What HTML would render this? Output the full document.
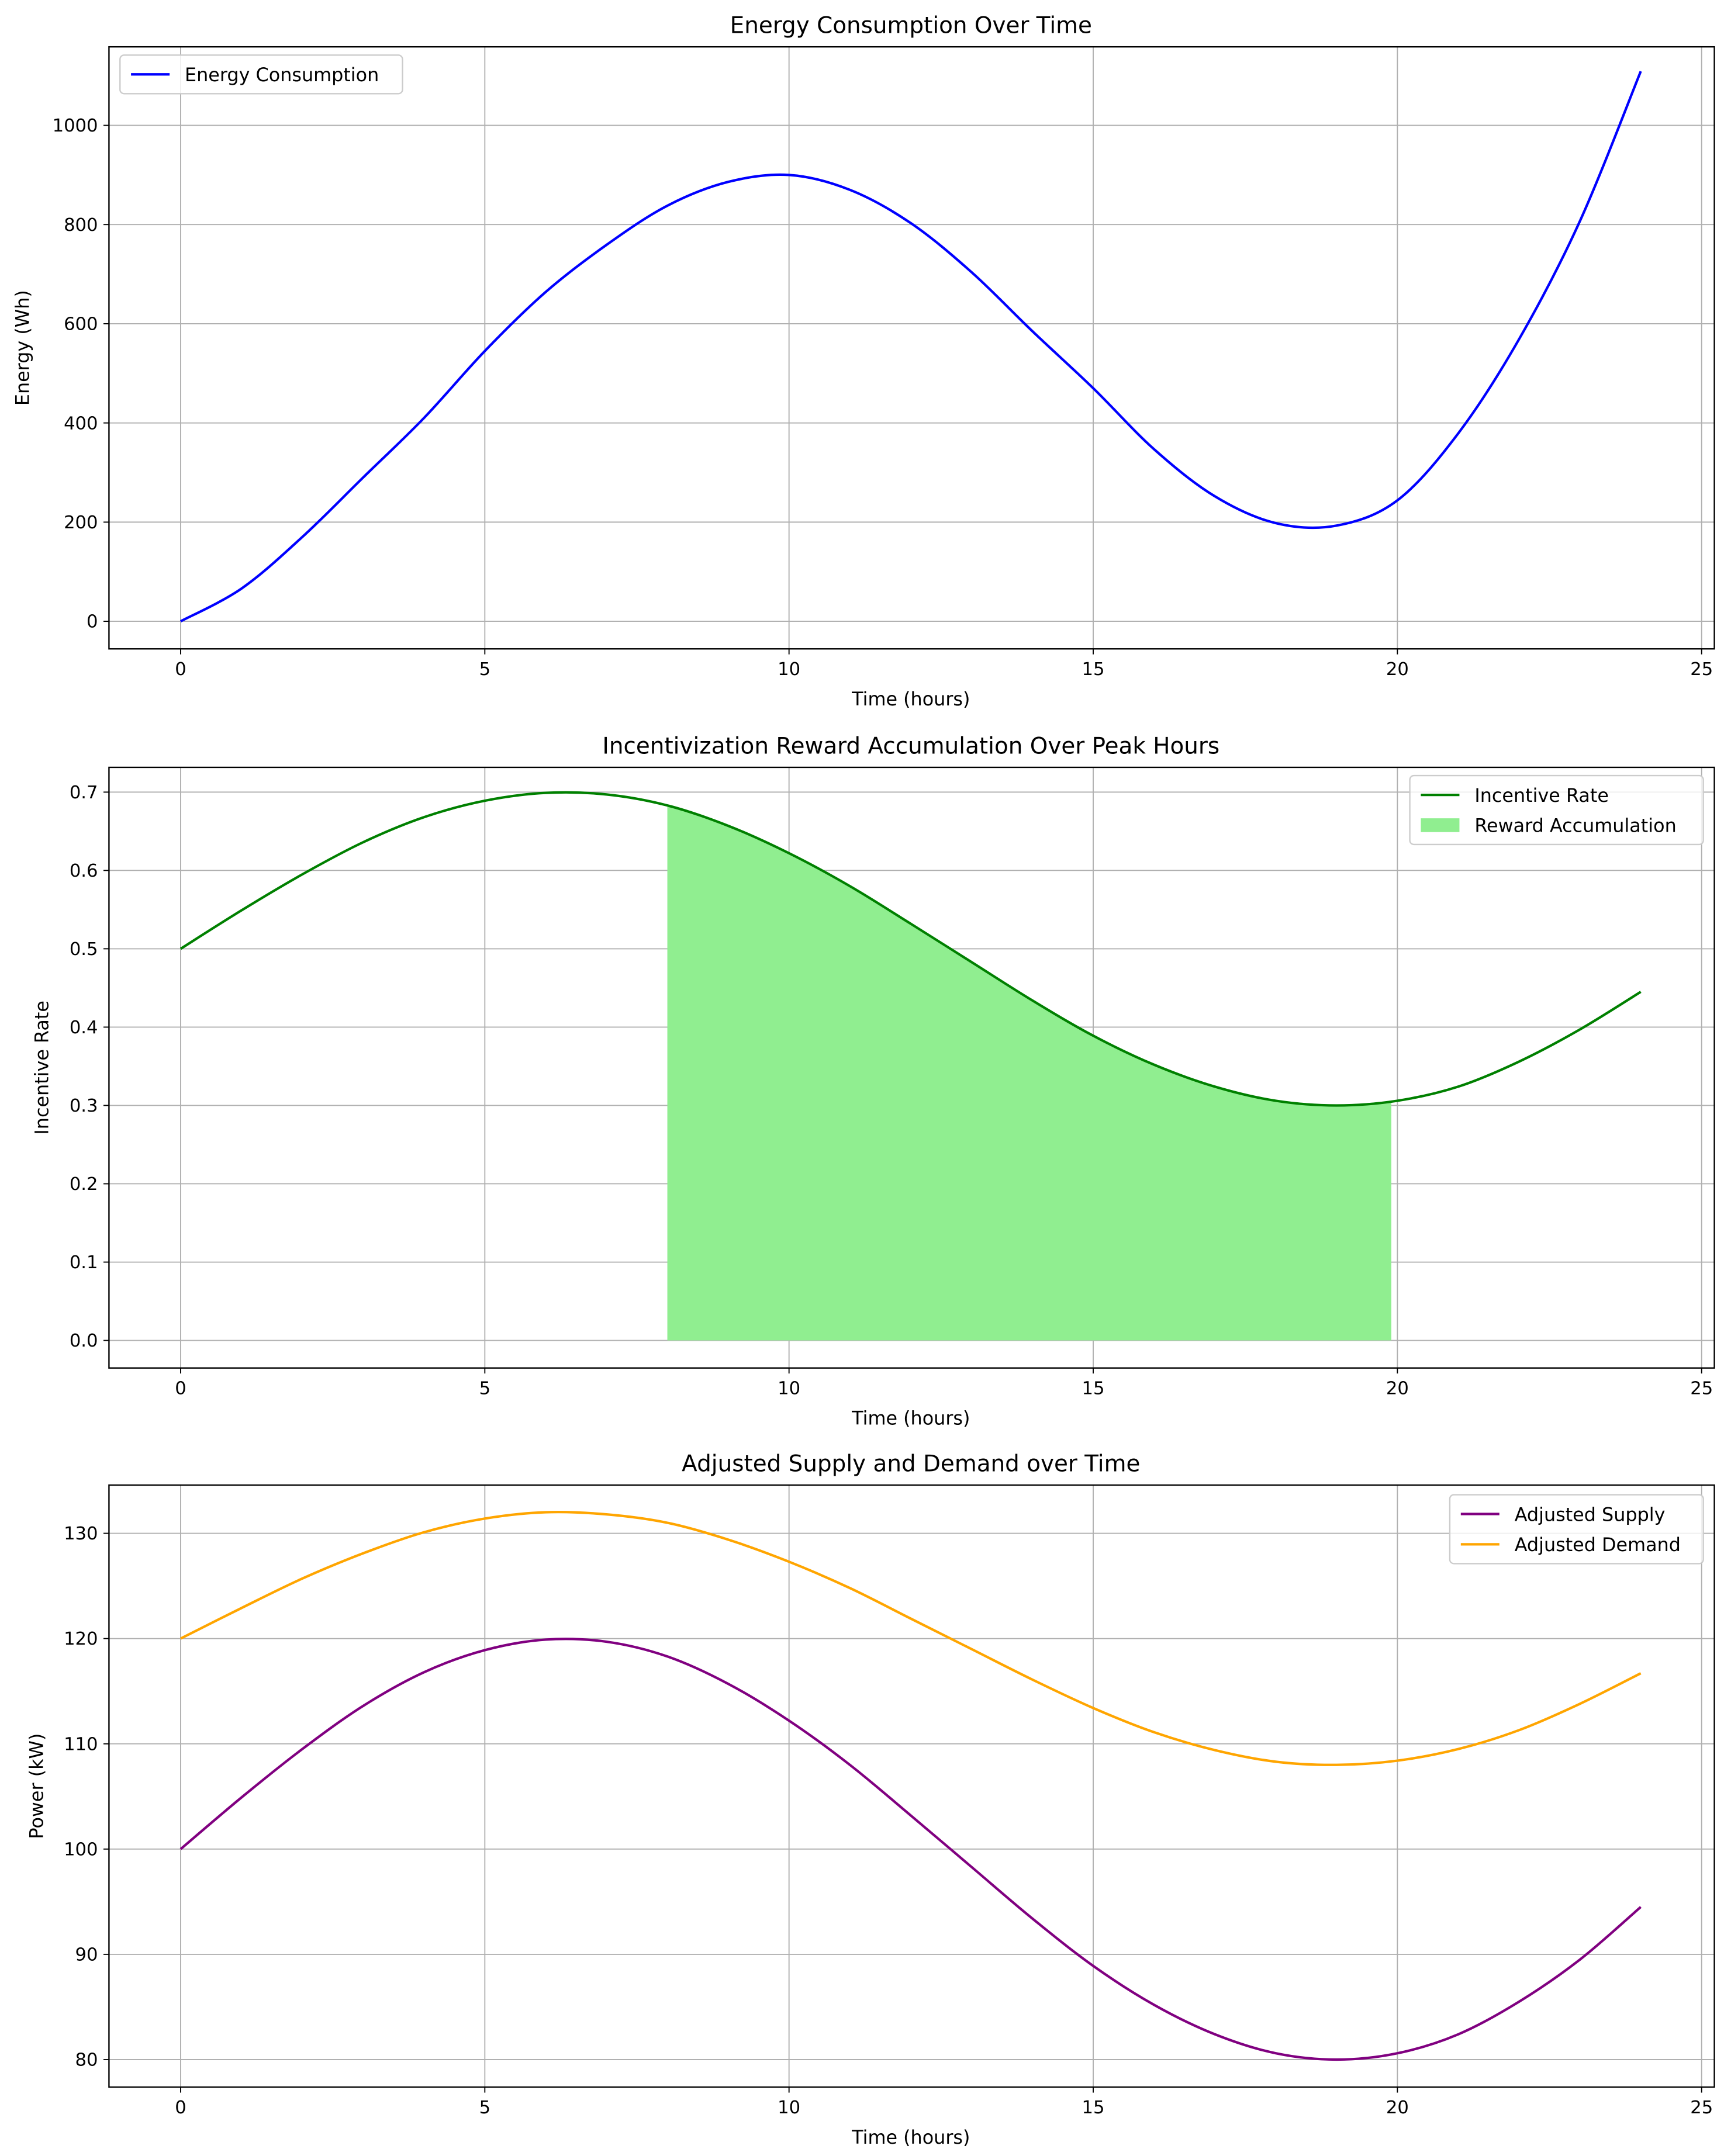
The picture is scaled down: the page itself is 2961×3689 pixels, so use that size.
<!DOCTYPE html>
<html><head><meta charset="utf-8"><style>
html,body{margin:0;padding:0;background:#fff}
svg{display:block;font-family:"DejaVu Sans","Liberation Sans",sans-serif}
</style></head><body>
<svg id="chart" width="2961" height="3689" viewBox="0 0 1256 1565" xmlns="http://www.w3.org/2000/svg"></svg>
<script>
const hours = [0,1,2,3,4,5,6,7,8,9,10,11,12,13,14,15,16,17,18,19,20,21,22,23,24];
const energy = [0,66,170,290,410,545,664,759,838,886,900,870,803,704,585,470,347,252,198,193,244,379,569,807,1109];
const incentive = [0.500,0.549,0.595,0.636,0.668,0.689,0.699,0.697,0.683,0.657,0.622,0.580,0.532,0.483,0.434,0.389,0.352,0.324,0.306,0.300,0.306,0.324,0.356,0.397,0.445];
const supply = [100,104.9,109.5,113.6,116.8,118.9,119.9,119.7,118.3,115.7,112.2,108.0,103.2,98.3,93.4,88.9,85.2,82.4,80.6,80.0,80.6,82.4,85.5,89.5,94.5];
const demand = [120,122.9,125.7,128.1,130.1,131.4,132.0,131.8,131.0,129.4,127.3,124.8,121.9,119.0,116.1,113.4,111.1,109.4,108.3,108.0,108.4,109.5,111.3,113.8,116.7];
const fillRange = [8, 19.9];
const xTicks = [0,5,10,15,20,25];
const yTicks1 = [0,200,400,600,800,1000];
const yTicks2 = [0.0,0.1,0.2,0.3,0.4,0.5,0.6,0.7];
const yTicks3 = [80,90,100,110,120,130];

const svg = document.getElementById('chart');
const NS = 'http://www.w3.org/2000/svg';
function mk(tag, attrs, parent){const e=document.createElementNS(NS,tag);for(const k in attrs)e.setAttribute(k,attrs[k]);(parent||svg).appendChild(e);return e;}
const xs = t => 131 + t*44.15;
function smooth(pts){let d='M'+pts[0][0]+','+pts[0][1];for(let i=0;i<pts.length-1;i++){const p0=pts[Math.max(i-1,0)],p1=pts[i],p2=pts[i+1],p3=pts[Math.min(i+2,pts.length-1)];d+=' C'+(p1[0]+(p2[0]-p0[0])/6)+','+(p1[1]+(p2[1]-p0[1])/6)+' '+(p2[0]-(p3[0]-p1[0])/6)+','+(p2[1]-(p3[1]-p1[1])/6)+' '+p2[0]+','+p2[1];}return d;}
function interp(arr,t){const i=Math.min(Math.floor(t),arr.length-2);const f=t-i;return arr[i]*(1-f)+arr[i+1]*f;}

function panel(name, top, bottom, y0px, yScale, yTicks, yFmt, title, ylabel){
  const g = mk('g',{});
  
  
  const ys = v => y0px - v*yScale;
  xTicks.forEach(t=>{const x=xs(t);mk('line',{x1:x,x2:x,y1:top,y2:bottom,stroke:'#b0b0b0','stroke-width':0.8},g);mk('line',{x1:x,x2:x,y1:bottom,y2:bottom+4,stroke:'#000','stroke-width':0.8},g);const tx=mk('text',{x:x,y:bottom+19,'font-size':13,'text-anchor':'middle'},g);tx.textContent=t;});
  yTicks.forEach(v=>{const y=ys(v);mk('line',{x1:79,x2:1244,y1:y,y2:y,stroke:'#b0b0b0','stroke-width':0.8},g);mk('line',{x1:75,x2:79,y1:y,y2:y,stroke:'#000','stroke-width':0.8},g);const tx=mk('text',{x:71,y:y+4.5,'font-size':13,'text-anchor':'end'},g);tx.textContent=yFmt(v);});
  const t1=mk('text',{x:661,y:top-10,'font-size':16.5,'text-anchor':'middle'},g);t1.textContent=title;
  
  const xl=mk('text',{x:661,y:bottom+41,'font-size':13.5,'text-anchor':'middle'},g);xl.textContent='Time (hours)';
  
  const cy=(top+bottom)/2;
  const yl=mk('text',{x:0,y:0,'font-size':13.5,'text-anchor':'middle',transform:'translate('+(ylabel.x)+','+cy+') rotate(-90)'},g);yl.textContent=ylabel.t;
  
  return {g, ys, frame:()=>mk('rect',{x:79,y:top,width:1165,height:bottom-top,fill:'none',stroke:'#000','stroke-width':1},g)};
}
function line(g, ys, arr, color, nm){
  const p=mk('path',{d:smooth(hours.map((h,i)=>[xs(h),ys(arr[i])])),fill:'none',stroke:color,'stroke-width':1.8},g);
  
  
}
function legend(g, x, y, w, items){
  const h=items.length*22+6;
  const lg=mk('g',{},g);
  
  
  mk('rect',{x:x,y:y,width:w,height:h,rx:3,fill:'#fff','fill-opacity':0.8,stroke:'#ccc','stroke-width':1},lg);
  items.forEach((it,i)=>{const yy=y+14+i*22;
    if(it.patch) mk('rect',{x:x+8,y:yy-5,width:28,height:10,fill:it.color},lg);
    else mk('line',{x1:x+8,x2:x+36,y1:yy,y2:yy,stroke:it.color,'stroke-width':1.8},lg);
    const tx=mk('text',{x:x+47,y:yy+5,'font-size':13.5},lg);tx.textContent=it.label;
    });
}

// Panel 1
const p1=panel('energy-panel',34,471,451,0.36,yTicks1,v=>v,'Energy Consumption Over Time',{x:21,t:'Energy (Wh)'});
line(p1.g,p1.ys,energy,'#0000ff','energy-line');
p1.frame();
legend(p1.g,87,40,205,[{color:'#0000ff',label:'Energy Consumption'}]);

// Panel 2
const p2=panel('incentive-panel',557,993,973,568.6,yTicks2,v=>v.toFixed(1),'Incentivization Reward Accumulation Over Peak Hours',{x:35,t:'Incentive Rate'});
{
  const pts=[];for(let t=fillRange[0];t<=fillRange[1]+1e-9;t+=0.1)pts.push([xs(t),p2.ys(interp(incentive,t))]);
  let d='M'+xs(fillRange[0])+','+p2.ys(0)+' '+pts.map(p=>'L'+p[0]+','+p[1]).join(' ')+' L'+xs(fillRange[1])+','+p2.ys(0)+' Z';
  const f=mk('path',{d:d,fill:'#90ee90'},p2.g);
  
  
}
line(p2.g,p2.ys,incentive,'#008000','incentive-line');
p2.frame();
legend(p2.g,1023,563,213,[{color:'#008000',label:'Incentive Rate'},{color:'#90ee90',label:'Reward Accumulation',patch:true}]);

// Panel 3
const p3=panel('supply-demand-panel',1078,1515,1495+80*7.64,7.64,yTicks3,v=>v,'Adjusted Supply and Demand over Time',{x:31,t:'Power (kW)'});
line(p3.g,p3.ys,supply,'#800080','supply-line');
line(p3.g,p3.ys,demand,'#ffa500','demand-line');
p3.frame();
legend(p3.g,1052,1085,184,[{color:'#800080',label:'Adjusted Supply'},{color:'#ffa500',label:'Adjusted Demand'}]);
</script>
</body></html>
